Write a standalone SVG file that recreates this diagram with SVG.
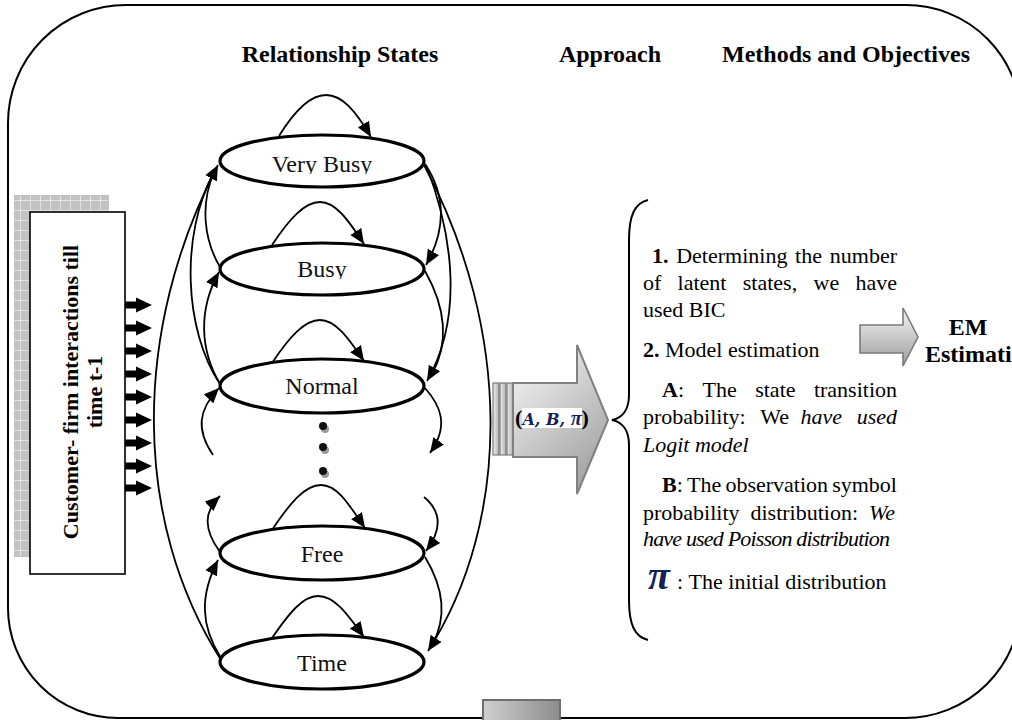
<svg xmlns="http://www.w3.org/2000/svg" width="1012" height="720" viewBox="0 0 1012 720">
<style>
  .hdr{font-family:"Liberation Serif","Times New Roman",serif;font-size:24px;font-weight:bold;text-anchor:middle;fill:#000}
  .state ellipse{fill:#fff;stroke:#000;stroke-width:3.2}
  .state text{font-family:"Liberation Serif","Times New Roman",serif;font-size:24px;text-anchor:middle;fill:#111}
  .edge{fill:none;stroke:#000;stroke-width:1.8}
  .body{font-family:"Liberation Serif","Times New Roman",serif;font-size:22px;fill:#000}
  .b{font-weight:bold}
  .i{font-style:italic}
  .sym{font-family:"DejaVu Serif",serif;font-weight:bold;font-style:italic;fill:#13215a}
  .pi{font-family:"Liberation Serif","Times New Roman",serif;font-weight:bold;font-style:italic;fill:#13215a}
  .feed{fill:#000}
</style>
<defs>
  <marker id="head" markerUnits="userSpaceOnUse" markerWidth="16" markerHeight="14" refX="15" refY="6.5" orient="auto" viewBox="0 0 16 13">
    <path d="M0,0 L15,6.5 L0,13 Z" fill="#000"/>
  </marker>
  <pattern id="grid" width="10" height="10" patternUnits="userSpaceOnUse">
    <rect width="10" height="10" fill="#c2c2c2"/>
    <path d="M0,0.5 H10 M0.5,0 V10" stroke="#e2e2e2" stroke-width="1"/>
  </pattern>
  <linearGradient id="bigArrow" x1="0" y1="0" x2="0.6" y2="1">
    <stop offset="0" stop-color="#fbfbfb"/>
    <stop offset="1" stop-color="#a4a4a4"/>
  </linearGradient>
  <linearGradient id="stripe" x1="0" y1="0" x2="1" y2="0">
    <stop offset="0" stop-color="#f0f0f0"/>
    <stop offset="1" stop-color="#b0b0b0"/>
  </linearGradient>
  <linearGradient id="emArrow" x1="0" y1="0" x2="0" y2="1">
    <stop offset="0" stop-color="#f6f6f6"/>
    <stop offset="1" stop-color="#9c9c9c"/>
  </linearGradient>
  <linearGradient id="tab" x1="0" y1="0" x2="1" y2="0">
    <stop offset="0" stop-color="#d0d0d0"/>
    <stop offset="1" stop-color="#8c8c8c"/>
  </linearGradient>
  <clipPath id="clipVB"><rect x="220" y="136" width="205" height="38"/></clipPath>
  <clipPath id="clipB"><rect x="220" y="244" width="205" height="35"/></clipPath>
  <path id="feedArrow" d="M125,-3.5 H136 V-7.5 L152,0 L136,7.5 V3.5 H125 Z"/>
</defs>

<!-- outer frame -->
<path d="M126,5 H906 A115,115 0 0 1 1021,120 V602 A116,116 0 0 1 905,718 H118 A110,110 0 0 1 8,608 V123 A118,118 0 0 1 126,5 Z" fill="none" stroke="#000" stroke-width="2"/>

<!-- column headings -->
<text class="hdr" x="340" y="62">Relationship States</text>
<text class="hdr" x="610" y="62">Approach</text>
<text class="hdr" x="846" y="62">Methods and Objectives</text>

<!-- input box with shadow -->
<g id="input">
  <rect x="14" y="195" width="95" height="362" fill="url(#grid)"/>
  <rect x="30" y="212" width="95" height="362" fill="#fff" stroke="#000" stroke-width="1.6"/>
  <text class="body b" font-size="24" text-anchor="middle" transform="translate(78,392) rotate(-90)">Customer- firm interactions till</text>
  <text class="body b" font-size="24" text-anchor="middle" transform="translate(102,392) rotate(-90)">time t-1</text>
  <g class="feed">
    <use href="#feedArrow" y="305"/>
    <use href="#feedArrow" y="328"/>
    <use href="#feedArrow" y="351"/>
    <use href="#feedArrow" y="374"/>
    <use href="#feedArrow" y="397"/>
    <use href="#feedArrow" y="420"/>
    <use href="#feedArrow" y="443"/>
    <use href="#feedArrow" y="466"/>
    <use href="#feedArrow" y="488"/>
  </g>
</g>

<!-- transitions -->
<g id="connectors">
  <!-- self loops -->
  <path class="edge" d="M279,136 C295,110 310,95 326,95 C342,95 355,110 371,137" marker-end="url(#head)"/>
  <path class="edge" d="M272,245 C290,218 305,202 320,202 C335,202 347,218 364,244" marker-end="url(#head)"/>
  <path class="edge" d="M272,363 C290,336 305,320 320,320 C335,320 347,336 364,361" marker-end="url(#head)"/>
  <path class="edge" d="M272,530 C290,503 305,485 321,485 C337,485 348,503 365,528" marker-end="url(#head)"/>
  <path class="edge" d="M272,638 C290,612 303,596 318,596 C334,596 346,612 364,637" marker-end="url(#head)"/>

  <!-- upward transitions (left) -->
  <path class="edge" d="M221,660 C132,520 132,330 218,165" marker-end="url(#head)"/>
  <path class="edge" d="M220,384 C184,330 180,235 214,172"/>
  <path class="edge" d="M220,267 C204,240 200,205 214,172"/>
  <path class="edge" d="M220,384 C200,350 198,310 219,272" marker-end="url(#head)"/>
  <path class="edge" d="M213,455 C196,430 198,410 219,388" marker-end="url(#head)"/>
  <path class="edge" d="M220,552 C204,530 203,512 220,496" marker-end="url(#head)"/>
  <path class="edge" d="M221,658 C200,625 200,595 218,560" marker-end="url(#head)"/>

  <!-- downward transitions (right) -->
  <path class="edge" d="M424,165 C512,330 512,520 428,651" marker-end="url(#head)"/>
  <path class="edge" d="M425,164 C446,195 446,230 426,265" marker-end="url(#head)"/>
  <path class="edge" d="M426,165 C455,240 462,320 427,381" marker-end="url(#head)"/>
  <path class="edge" d="M425,271 C447,310 448,345 432,374"/>
  <path class="edge" d="M425,388 C440,405 450,425 430,453" marker-end="url(#head)"/>
  <path class="edge" d="M424,497 C442,512 442,530 426,551" marker-end="url(#head)"/>
  <path class="edge" d="M425,557 C445,590 446,620 432,645"/>
</g>

<!-- states -->
<g id="state-very-busy" class="state">
  <ellipse cx="322" cy="161" rx="102" ry="26"/>
  <text x="322" y="172" clip-path="url(#clipVB)">Very Busy</text>
</g>
<g id="state-busy" class="state">
  <ellipse cx="322" cy="269" rx="102" ry="26"/>
  <text x="322" y="277" clip-path="url(#clipB)">Busy</text>
</g>
<g id="state-normal" class="state">
  <ellipse cx="322" cy="386" rx="102" ry="27"/>
  <text x="322" y="394">Normal</text>
</g>
<g id="state-free" class="state">
  <ellipse cx="322" cy="553" rx="102" ry="27"/>
  <text x="322" y="562">Free</text>
</g>
<g id="state-time" class="state">
  <ellipse cx="322" cy="662" rx="102" ry="27"/>
  <text x="322" y="671">Time</text>
</g>

<!-- ellipsis between states -->
<g id="more-states">
  <circle cx="325" cy="429" r="4" fill="#9a9a9a"/>
  <circle cx="323" cy="426" r="4" fill="#111"/>
  <circle cx="325" cy="450" r="4" fill="#9a9a9a"/>
  <circle cx="323" cy="447" r="4" fill="#111"/>
  <circle cx="325" cy="474" r="4" fill="#9a9a9a"/>
  <circle cx="323" cy="471" r="4" fill="#111"/>
</g>

<!-- approach arrow -->
<g id="approach">
  <rect x="493" y="383" width="6" height="72" fill="url(#stripe)" stroke="#7a7a7a" stroke-width="1.2"/>
  <rect x="500" y="383" width="6" height="72" fill="url(#stripe)" stroke="#7a7a7a" stroke-width="1.2"/>
  <rect x="507" y="383" width="6" height="72" fill="url(#stripe)" stroke="#7a7a7a" stroke-width="1.2"/>
  <path d="M513,383 H577 V345 L608,420 L577,494 V457 H513 Z" fill="url(#bigArrow)" stroke="#808080" stroke-width="2"/>
  <rect x="522" y="408" width="60" height="20" fill="#fff"/>
  <text x="552" y="425" text-anchor="middle" font-size="16"><tspan class="body b" font-size="17">(</tspan><tspan class="sym">A</tspan><tspan class="sym">, B, </tspan><tspan class="pi" font-size="20">π</tspan><tspan class="body b" font-size="17">)</tspan></text>
</g>

<!-- brace -->
<path d="M648,200 C635,203 629,215 629,240 L629,395 C629,410 622,418 612,420 C622,422 629,430 629,445 L629,600 C629,625 635,637 648,640" fill="none" stroke="#000" stroke-width="2"/>

<!-- methods text -->
<g id="methods" class="body">
  <text y="263"><tspan class="b" x="652">1.</tspan><tspan x="676.2">Determining</tspan><tspan x="795.1">the</tspan><tspan x="829.8">number</tspan></text>
  <text y="290"><tspan x="643">of</tspan><tspan x="677.6">latent</tspan><tspan x="742.8">states,</tspan><tspan x="813.5">we</tspan><tspan x="855.5">have</tspan></text>
  <text x="643" y="317">used BIC</text>
  <text x="643" y="357"><tspan class="b">2.</tspan> Model estimation</text>
  <text y="397"><tspan class="b" x="662">A</tspan>:<tspan x="702.5">The</tspan><tspan x="755.2">state</tspan><tspan x="813.9">transition</tspan></text>
  <text y="424"><tspan x="643">probability:</tspan><tspan x="760.3">We</tspan><tspan class="i" x="800.6">have</tspan><tspan class="i" x="856.7">used</tspan></text>
  <text class="i" x="643" y="452">Logit model</text>
  <text y="492"><tspan class="b" x="662">B</tspan>:<tspan x="687">The</tspan><tspan x="725.4">observation</tspan><tspan x="832.2">symbol</tspan></text>
  <text y="520"><tspan x="643">probability</tspan><tspan x="750.5">distribution:</tspan><tspan class="i" x="868.9">We</tspan></text>
  <text class="i" x="643" y="546" textLength="247" lengthAdjust="spacing">have used Poisson distribution</text>
  <text y="589"><tspan class="pi" font-size="40" x="648">π</tspan><tspan x="677">: The initial distribution</tspan></text>
</g>

<!-- EM estimation -->
<g id="em">
  <path d="M860,325 H903 V308 L918,337 L903,366 V353 H860 Z" fill="url(#emArrow)" stroke="#7a7a7a" stroke-width="1.6"/>
  <text class="hdr" x="968" y="335">EM</text>
  <text class="hdr" x="925" y="362" style="text-anchor:start">Estimati</text>
</g>

<!-- small tab on lower edge -->
<rect x="483" y="700" width="77" height="26" fill="url(#tab)" stroke="#6e6e6e" stroke-width="2"/>
</svg>
